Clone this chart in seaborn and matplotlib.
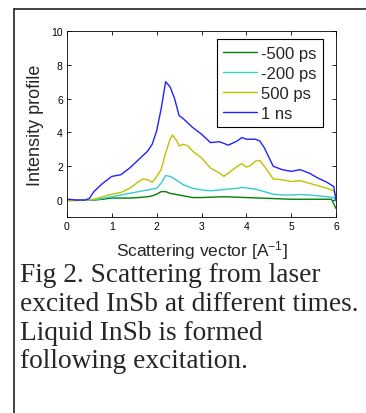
import numpy as np
import pandas as pd
import matplotlib
matplotlib.use("Agg")
import matplotlib.pyplot as plt
import seaborn as sns
from matplotlib.lines import Line2D

# valores
x_1ns = [0, 0.2, 0.4, 0.5, 0.6, 0.8, 0.95, 1.0, 1.2, 1.4, 1.6, 1.8, 1.9, 2.0, 2.1, 2.2, 2.3, 2.4,
         2.5, 2.6, 2.8, 3.0, 3.2, 3.4, 3.6, 3.8, 3.9, 4.0, 4.2, 4.3, 4.4, 4.6, 4.8, 5.0, 5.2,
         5.4, 5.6, 5.8, 5.95, 6.0]
y_1ns = [0.06, 0.0, 0.0, 0.1, 0.5, 1.0, 1.3, 1.4, 1.5, 1.9, 2.4, 2.9, 3.3, 4.1, 5.4, 7.0, 6.7, 6.0,
         5.0, 4.8, 4.3, 3.9, 3.4, 3.45, 3.25, 3.5, 3.7, 3.6, 3.6, 3.5, 3.1, 2.0, 1.8, 1.7, 1.8,
         1.6, 1.3, 1.05, 0.8, 0.0]

x_500ps = [0, 0.4, 0.6, 0.8, 1.0, 1.2, 1.4, 1.6, 1.7, 1.8, 1.9, 1.95, 2.0, 2.1, 2.2, 2.3, 2.35,
           2.45, 2.5, 2.6, 2.7, 2.8, 3.0, 3.2, 3.4, 3.5, 3.6, 3.8, 3.9, 4.0, 4.1, 4.2, 4.3, 4.4,
           4.6, 4.8, 5.0, 5.2, 5.4, 5.6, 5.8, 5.95, 6.0]
y_500ps = [-0.05, 0.0, 0.05, 0.2, 0.35, 0.45, 0.7, 1.1, 1.25, 1.2, 1.05, 1.2, 1.4, 1.8, 2.8, 3.6,
           3.85, 3.5, 3.2, 3.3, 3.2, 2.9, 2.5, 1.9, 1.6, 1.4, 1.6, 2.0, 2.15, 1.95, 2.05, 2.3,
           2.35, 2.0, 1.25, 1.2, 1.1, 1.15, 1.0, 0.85, 0.7, 0.55, 0.2]

x_200ps = [0, 0.5, 0.7, 1.0, 1.2, 1.4, 1.6, 1.8, 2.0, 2.1, 2.2, 2.3, 2.4, 2.6, 2.8, 3.0, 3.2, 3.4,
           3.6, 3.8, 3.9, 4.0, 4.2, 4.4, 4.6, 4.8, 5.0, 5.2, 5.4, 5.6, 5.8, 5.95, 6.0]
y_200ps = [0.0, 0.0, 0.05, 0.2, 0.3, 0.4, 0.5, 0.6, 0.7, 1.0, 1.45, 1.4, 1.25, 0.9, 0.7, 0.6,
           0.55, 0.6, 0.65, 0.7, 0.75, 0.72, 0.65, 0.5, 0.35, 0.3, 0.3, 0.33, 0.3, 0.25, 0.2,
           0.15, -0.1]

x_m500ps = [0, 0.6, 0.8, 1.0, 1.4, 1.6, 1.8, 1.9, 2.0, 2.1, 2.2, 2.3, 2.5, 2.8, 3.0, 3.5, 4.0,
            4.5, 5.0, 5.5, 5.9, 6.0]
y_m500ps = [0.0, 0.0, 0.05, 0.12, 0.12, 0.15, 0.2, 0.25, 0.35, 0.5, 0.5, 0.4, 0.3, 0.15, 0.15,
            0.2, 0.15, 0.1, 0.05, 0.05, 0.05, -0.5]

rotulos = ['-500 ps', '-200 ps', '500 ps', '1 ns']
cores = ['#008000', '#33cccc', '#c0c000', '#2222ff']

sns.set_style("ticks")
plt.rcParams['font.family'] = ['Liberation Sans', 'DejaVu Sans']
plt.rcParams['mathtext.fontset'] = 'custom'
plt.rcParams['mathtext.rm'] = 'Liberation Sans'
plt.rcParams['mathtext.it'] = 'Liberation Sans'

fig = plt.figure(figsize=(3.66, 4.14), dpi=100)
ax = fig.add_axes([67 / 366, 1 - 218 / 414, 269 / 366, 186 / 414])

series = [(x_m500ps, y_m500ps), (x_200ps, y_200ps), (x_500ps, y_500ps), (x_1ns, y_1ns)]
for (xs, ys), rot, cor in zip(series, rotulos, cores):
    df = pd.DataFrame({'x': xs, 'y': ys})
    sns.lineplot(data=df, x='x', y='y', ax=ax, color=cor, label=rot, linewidth=1.0)

ax.set_xlim(0, 6)
ax.set_ylim(-1, 10)
ax.set_xticks(range(0, 7))
ax.set_yticks(range(0, 11, 2))
ax.tick_params(direction='in', top=True, right=True, length=3, width=0.6,
               labelsize=7.5, pad=3, colors='black')
for s in ax.spines.values():
    s.set_linewidth(0.6)
    s.set_color('black')

ax.set_xlabel('Scattering vector [A$^{\\mathregular{-1}}$]', fontsize=12.5, labelpad=5)
ax.set_ylabel('Intensity profile', fontsize=13, labelpad=5)

leg = ax.legend(loc='upper right', bbox_to_anchor=(0.952, 0.957), borderaxespad=0,
                fontsize=12, handlelength=2.0, handletextpad=0.25, labelspacing=0.3,
                fancybox=False, framealpha=1, edgecolor='black', borderpad=0.4)
leg.get_frame().set_linewidth(0.8)

# moldura da figura
fig.add_artist(Line2D([14 / 366, 14 / 366], [0, 1 - 10 / 414], color='#222222', lw=1.2,
                      transform=fig.transFigure))
fig.add_artist(Line2D([14 / 366, 1], [1 - 10 / 414, 1 - 10 / 414], color='#222222', lw=1.2,
                      transform=fig.transFigure))

legenda = ("Fig 2. Scattering from laser\n"
           "excited InSb at different times.\n"
           "Liquid InSb is formed\n"
           "following excitation.")
fig.text(20 / 366, 1 - 263 / 414, legenda, family='Liberation Serif', fontsize=19.7,
         va='top', ha='left', linespacing=1.2)

fig.savefig('out.png', dpi=100)
